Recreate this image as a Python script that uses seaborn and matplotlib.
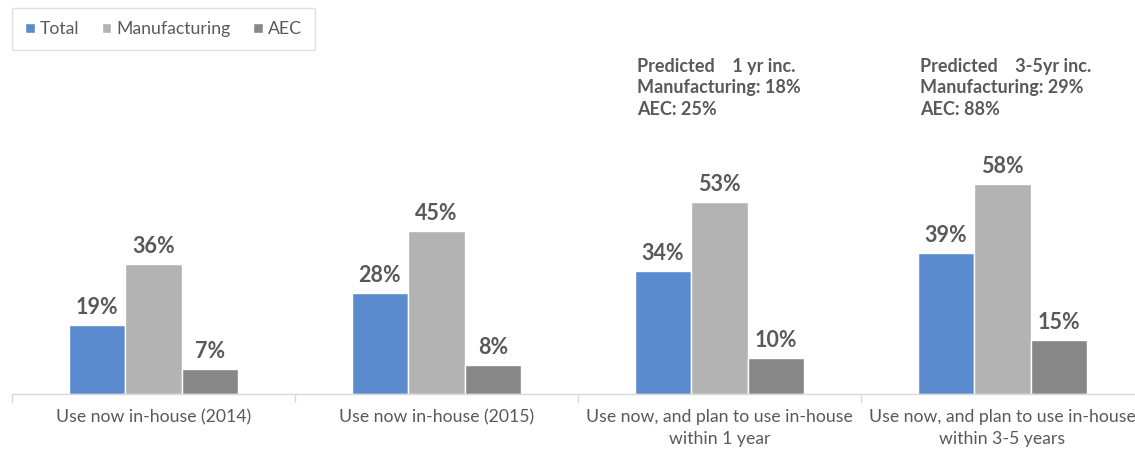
import matplotlib
matplotlib.use("Agg")
import matplotlib.pyplot as plt
import seaborn as sns
import pandas as pd

categories = ["Use now in-house (2014)", "Use now in-house (2015)",
              "Use now, and plan to use in-house\nwithin 1 year",
              "Use now, and plan to use in-house\nwithin 3-5 years"]
series = ["Total", "Manufacturing", "AEC"]
total = [19, 28, 34, 39]
manufacturing = [36, 45, 53, 58]
aec = [7, 8, 10, 15]
notes = {2: "Predicted    1 yr inc.\nManufacturing: 18%\nAEC: 25%",
         3: "Predicted    3-5yr inc.\nManufacturing: 29%\nAEC: 88%"}

colors = ["#5A8BCF", "#B3B3B3", "#878787"]
txt = "#595959"

rows = []
for s, vals in zip(series, [total, manufacturing, aec]):
    for c, v in zip(categories, vals):
        rows.append({"cat": c, "series": s, "val": v})
df = pd.DataFrame(rows)

sns.set_theme(style="white")
plt.rcParams["font.family"] = ["Lato", "DejaVu Sans"]

fig = plt.figure(figsize=(11.35, 4.51), dpi=100)
ax = fig.add_axes([12 / 1135, 57 / 451, 1123 / 1135, 394 / 451])

sns.barplot(data=df, x="cat", y="val", hue="series", order=categories,
            hue_order=series, palette=colors, width=0.6, saturation=1,
            edgecolor="white", linewidth=1, ax=ax, legend=True)

for cont in ax.containers:
    labels = [f"{int(round(b.get_height()))}%" for b in cont]
    ax.bar_label(cont, labels=labels, padding=5, fontsize=15.5,
                 fontweight="bold", color=txt)

for i, t in notes.items():
    ax.text(i - 0.29, 93, t, ha="left", va="top", fontsize=13,
            fontweight="bold", color=txt, linespacing=1.33)

ax.set_xlim(-0.5, -0.5 + 1123 / 283)
ax.set_ylim(0, 109)
ax.set_xlabel("")
ax.set_ylabel("")
ax.set_yticks([])
for sp in ["top", "right", "left"]:
    ax.spines[sp].set_visible(False)
ax.spines["bottom"].set_color("#d9d9d9")
ax.spines["bottom"].set_linewidth(1)

ax.set_xticks([0, 1, 2, 3])
ax.set_xticklabels(categories, fontsize=12.7, color=txt, linespacing=1.45)
ax.tick_params(axis="x", length=0, pad=11)
for b in [-0.5, 0.5, 1.5, 2.5]:
    ax.plot([b, b], [0, -2.2], color="#d9d9d9", lw=1, clip_on=False)

leg = ax.legend(loc="upper left", bbox_to_anchor=(0.0, 386 / 394), ncol=3,
                frameon=True, fontsize=12.7, handlelength=0.55,
                handleheight=0.55, handletextpad=0.3, columnspacing=1.25,
                borderpad=0.75, borderaxespad=0, labelcolor=txt,
                fancybox=False)
leg.get_frame().set_edgecolor("#d9d9d9")
leg.get_frame().set_linewidth(1)

fig.savefig("out.png", dpi=100)
